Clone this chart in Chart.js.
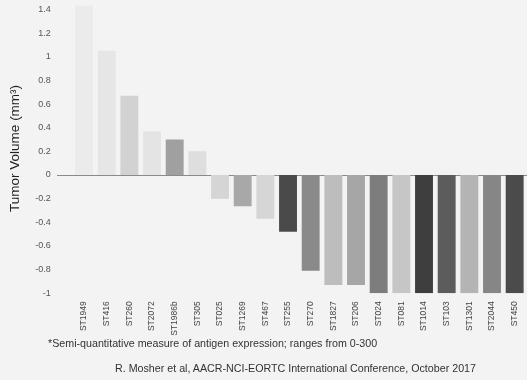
<!DOCTYPE html>
<html>
<head>
<meta charset="utf-8">
<script src="https://cdn.jsdelivr.net/npm/chart.js@4"></script>
<style>
  html, body { margin: 0; padding: 0; background: #f3f3f3; }
  #wrap { position: relative; width: 527px; height: 380px; }
  .note { position: absolute; font-family: "Liberation Sans", Arial, sans-serif; color: #333; white-space: nowrap; font-size: 10.7px; line-height: 12px; }
</style>
</head>
<body>
<div id="wrap">
  <canvas id="tumorChart" width="527" height="380"></canvas>
  <div class="note" style="left:48px; top:337px;">*Semi-quantitative measure of antigen expression; ranges from 0-300</div>
  <div class="note" style="left:115px; top:362px;">R. Mosher et al, AACR-NCI-EORTC International Conference, October 2017</div>
</div>
<script>
const models = ['ST1949', 'ST416', 'ST260', 'ST2072', 'ST1986b', 'ST305', 'ST025', 'ST1269', 'ST467', 'ST255',
    'ST270', 'ST1827', 'ST206', 'ST024', 'ST081', 'ST1014', 'ST103', 'ST1301', 'ST2044', 'ST450'];
const volumeChange = [1.43, 1.05, 0.67, 0.37, 0.30, 0.20, -0.20, -0.265, -0.37, -0.48,
    -0.81, -0.93, -0.93, -1.0, -1.0, -1.0, -1.0, -1.0, -1.0, -1.0];
// grey shade of each bar (antigen expression)
const barShades = ['#ebebeb', '#e6e6e6', '#d2d2d2', '#e4e4e4', '#a0a0a0', '#dedede', '#d5d5d5', '#a8a8a8', '#d6d6d6', '#4a4a4a',
    '#8a8a8a', '#bdbdbd', '#a6a6a6', '#7d7d7d', '#c6c6c6', '#3e3e3e', '#5c5c5c', '#b4b4b4', '#868686', '#4b4b4b'];
const yTicks = [-1, -0.8, -0.6, -0.4, -0.2, 0, 0.2, 0.4, 0.6, 0.8, 1, 1.2, 1.4];

// zero line reaching out past the plot area
const zeroLinePlugin = {
    id: 'zeroLine',
    beforeDatasetsDraw(chart) {
        const { ctx } = chart;
        const y = Math.round(chart.scales.y.getPixelForValue(0)) + 0.5;
        ctx.save();
        ctx.strokeStyle = '#8a8a8a';
        ctx.lineWidth = 1;
        ctx.beginPath();
        ctx.moveTo(57, y);
        ctx.lineTo(chart.width, y);
        ctx.stroke();
        ctx.restore();
    },
};

const chart = new Chart(document.getElementById('tumorChart'), {
    type: 'bar',
    data: {
        labels: models,
        datasets: [{
            data: volumeChange,
            backgroundColor: barShades,
            categoryPercentage: 1,
            barPercentage: 0.79,
        }],
    },
    options: {
        responsive: false,
        animation: false,
        layout: { padding: { top: 3.5, right: 1, bottom: 0, left: 0 } },
        plugins: {
            legend: { display: false },
            tooltip: { enabled: false },
        },
        scales: {
            x: {
                grid: { display: false },
                border: { display: false },
                ticks: {
                    minRotation: 90,
                    maxRotation: 90,
                    padding: 0,
                    color: '#444',
                    font: { family: 'Liberation Sans', size: 8.5 },
                },
                afterFit(scale) { scale.height = 86.7; },
            },
            y: {
                min: -1,
                max: 1.45,
                grid: { display: false },
                border: { display: false },
                afterBuildTicks(scale) { scale.ticks = yTicks.map(v => ({ value: v })); },
                ticks: {
                    padding: 14,
                    color: '#555',
                    font: { family: 'Liberation Sans', size: 9 },
                    callback: (v) => String(+v.toFixed(1)),
                },
                title: {
                    display: true,
                    text: 'Tumor Volume (mm³)',
                    color: '#222',
                    padding: { top: 7, bottom: 0 },
                    font: { family: 'Liberation Sans', size: 13.5 },
                },
                afterFit(scale) {
                    scale.width = 72.7;
                    scale.paddingTop = 0;
                    scale.paddingBottom = 0;
                },
            },
        },
    },
    plugins: [zeroLinePlugin],
});
</script>
</body>
</html>
